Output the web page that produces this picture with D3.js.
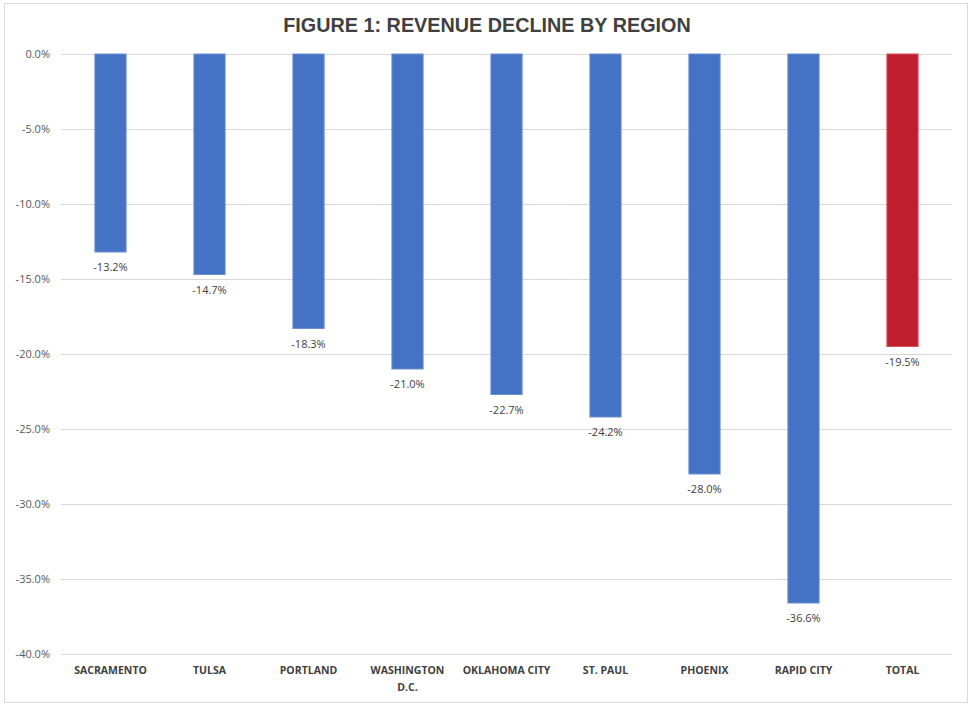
<!DOCTYPE html>
<html><head><meta charset="utf-8">
<script src="https://cdn.jsdelivr.net/npm/d3@7"></script>
<style>body{margin:0;background:#fff;} svg{display:block;}</style>
</head><body>
<svg id="chart" width="974" height="708"></svg>
<script>
const categories = ["SACRAMENTO","TULSA","PORTLAND","WASHINGTON D.C.","OKLAHOMA CITY","ST. PAUL","PHOENIX","RAPID CITY","TOTAL"];
const values = [-13.2,-14.7,-18.3,-21.0,-22.7,-24.2,-28.0,-36.6,-19.5];
const yTicks = [0,-5,-10,-15,-20,-25,-30,-35,-40];
const title = "FIGURE 1: REVENUE DECLINE BY REGION";

const svg = d3.select("#chart");
const W = 974, H = 708;
const m = {left:61, right:22, top:54, bottom:54};
const pct = d => d3.format(".1f")(d).replace("\u2212","-") + "%";

svg.append("rect").attr("x",4.5).attr("y",3.5).attr("width",963).attr("height",699)
  .attr("fill","#fff").attr("stroke","#d9d9d9").attr("stroke-width",1);

const x = d3.scaleBand().domain(categories).range([m.left, W-m.right]).paddingInner(0.685).paddingOuter(0.3425);
const y = d3.scaleLinear().domain([0,-40]).range([m.top, H-m.bottom]);

svg.append("text").attr("x",487).attr("y",32).attr("text-anchor","middle")
  .attr("font-family","Liberation Sans, Arial, sans-serif").attr("font-weight","bold")
  .attr("font-size",19.8).attr("fill","#404040").text(title);

const yAxis = d3.axisLeft(y).tickValues(yTicks).tickSize(-(W-m.right-m.left)).tickFormat(pct);
const gy = svg.append("g").attr("transform",`translate(${m.left},0)`).call(yAxis);
gy.select(".domain").remove();
gy.selectAll(".tick line").attr("stroke","#d9d9d9").attr("stroke-width",1);
gy.selectAll(".tick text").attr("x",-11).attr("dy","0.32em").attr("font-family","Open Sans, sans-serif")
  .attr("font-size",11).attr("fill","#595959");

svg.selectAll("rect.bar").data(values).enter().append("rect").attr("class","bar")
  .attr("x",(d,i)=>x(categories[i]))
  .attr("y",y(0))
  .attr("width",x.bandwidth())
  .attr("height",d=>y(d)-y(0))
  .attr("fill",(d,i)=> i===categories.length-1 ? "#BE1E2D" : "#4472C4")
  .attr("stroke",(d,i)=> i===categories.length-1 ? "#d4545c" : "#6d8fd0")
  .attr("stroke-width",1);

svg.selectAll("text.lbl").data(values).enter().append("text").attr("class","lbl")
  .attr("x",(d,i)=>x(categories[i])+x.bandwidth()/2)
  .attr("y",d=>y(d)+19)
  .attr("text-anchor","middle").attr("font-family","Open Sans, sans-serif")
  .attr("font-size",11).attr("fill","#404040")
  .text(pct);

const xAxis = d3.axisBottom(x).tickSize(0);
const gx = svg.append("g").attr("transform",`translate(0,${H-m.bottom})`).call(xAxis);
gx.select(".domain").remove();
gx.selectAll(".tick text").remove();
gx.selectAll(".tick").each(function(d){
  const t = d3.select(this).append("text").attr("text-anchor","middle")
    .attr("font-family","Open Sans, sans-serif").attr("font-weight","bold")
    .attr("font-size",10.5).attr("fill","#404040");
  const lines = d==="WASHINGTON D.C." ? ["WASHINGTON","D.C."] : [d];
  lines.forEach((l,i)=> t.append("tspan").attr("x",0).attr("y",20+i*17).text(l));
});
</script>
</body></html>
